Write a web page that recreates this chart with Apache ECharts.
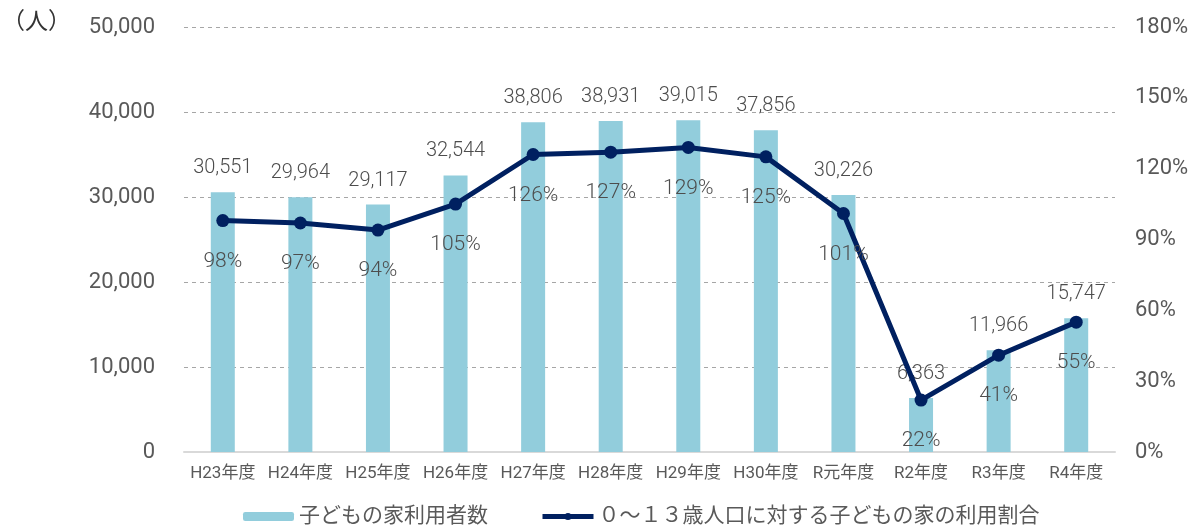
<!DOCTYPE html>
<html>
<head>
<meta charset="utf-8">
<script src="https://cdn.jsdelivr.net/npm/echarts@6/dist/echarts.min.js"></script>
<style>
    html, body { margin: 0; padding: 0; background: #fff; }
    #chart { width: 1194px; height: 532px; }
</style>
</head>
<body>
<div id="chart"></div>
<script>
    // 年度
    var categories = ['H23年度', 'H24年度', 'H25年度', 'H26年度', 'H27年度', 'H28年度',
        'H29年度', 'H30年度', 'R元年度', 'R2年度', 'R3年度', 'R4年度'];
    // 子どもの家利用者数（人）
    var users = [30551, 29964, 29117, 32544, 38806, 38931, 39015, 37856, 30226, 6363, 11966, 15747];
    // 利用割合（%）
    var ratio = [98, 97, 94, 105, 126, 127, 129, 125, 101, 22, 41, 55];

    var font = "Roboto, 'Noto Sans CJK JP', sans-serif";
    var chart = echarts.init(document.getElementById('chart'));

    chart.setOption({
        animation: false,
        textStyle: { fontFamily: font },
        grid: { left: 184, right: 79, top: 27, bottom: 80 },
        graphic: [{
            type: 'text',
            left: 2,
            top: 12,
            style: { text: '（人）', fontSize: 23, fill: '#333', fontFamily: font }
        }],
        legend: {
            left: 238,
            bottom: 0,
            itemWidth: 51,
            itemHeight: 9,
            itemGap: 52,
            textStyle: { fontSize: 21, color: '#595959', fontFamily: font },
            data: [
                { name: '子どもの家利用者数' },
                { name: '０～１３歳人口に対する子どもの家の利用割合', lineStyle: { width: 5 } }
            ]
        },
        xAxis: {
            type: 'category',
            data: categories,
            axisLine: { lineStyle: { color: '#d9d9d9', width: 2 } },
            axisTick: { show: false },
            axisLabel: { color: '#595959', fontSize: 17, margin: 13, interval: 0 }
        },
        yAxis: [{
            type: 'value',
            min: 0,
            max: 50000,
            interval: 10000,
            axisLine: { show: false },
            axisTick: { show: false },
            axisLabel: {
                color: '#595959',
                fontSize: 22,
                margin: 29,
                formatter: function (v) { return v.toLocaleString('en-US'); }
            },
            splitLine: { lineStyle: { type: [4, 4], color: '#a6a6a6' } }
        }, {
            type: 'value',
            min: 0,
            max: 180,
            interval: 30,
            axisLine: { show: false },
            axisTick: { show: false },
            axisLabel: { color: '#595959', fontSize: 22, margin: 20, formatter: '{value}%' },
            splitLine: { show: false }
        }],
        series: [{
            name: '子どもの家利用者数',
            type: 'bar',
            data: users,
            barWidth: 24,
            itemStyle: { color: '#92cddc' },
            label: {
                show: true,
                position: 'top',
                distance: 14,
                color: '#4d4d4d',
                fontSize: 20,
                fontWeight: 300,
                formatter: function (p) { return p.value.toLocaleString('en-US'); }
            }
        }, {
            name: '０～１３歳人口に対する子どもの家の利用割合',
            type: 'line',
            yAxisIndex: 1,
            data: ratio,
            symbol: 'circle',
            symbolSize: 13,
            lineStyle: { color: '#002060', width: 5 },
            itemStyle: { color: '#002060' },
            z: 3,
            label: {
                show: true,
                position: 'bottom',
                distance: 24,
                color: '#4d4d4d',
                fontSize: 21,
                fontWeight: 300,
                formatter: '{c}%'
            }
        }]
    });
</script>
</body>
</html>
